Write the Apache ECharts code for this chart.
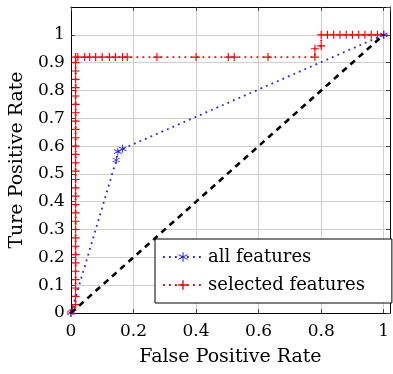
<!DOCTYPE html>
<html>
<head>
<meta charset="utf-8">
<script src="https://cdn.jsdelivr.net/npm/echarts@6/dist/echarts.min.js"></script>
<style>
  html, body { margin: 0; padding: 0; background: #fff; }
  #chart { width: 393px; height: 374px; }
</style>
</head>
<body>
<div id="chart"></div>
<script>
// ROC points: [false positive rate, true positive rate]
const allFeatures = [
  [0, 0], [0.145, 0.55], [0.15, 0.58], [0.165, 0.59], [1, 1]
];
const selectedFeatures = [
  [0, 0], [0.005, 0.01],
  [0.015, 0.03], [0.015, 0.06], [0.015, 0.09], [0.015, 0.12], [0.015, 0.15],
  [0.015, 0.18], [0.015, 0.21], [0.015, 0.24], [0.015, 0.27], [0.015, 0.30],
  [0.015, 0.33], [0.015, 0.36], [0.015, 0.39], [0.015, 0.42], [0.015, 0.45],
  [0.015, 0.48], [0.015, 0.51], [0.015, 0.54], [0.015, 0.57], [0.015, 0.60],
  [0.015, 0.63], [0.015, 0.66], [0.015, 0.69], [0.015, 0.72], [0.015, 0.75],
  [0.015, 0.78], [0.015, 0.81], [0.015, 0.84], [0.015, 0.87], [0.015, 0.90],
  [0.015, 0.92], [0.022, 0.92], [0.044, 0.92], [0.06, 0.92], [0.079, 0.92],
  [0.1, 0.92], [0.123, 0.92], [0.142, 0.92], [0.165, 0.92], [0.18, 0.92],
  [0.275, 0.92], [0.40, 0.92], [0.503, 0.92], [0.522, 0.92], [0.63, 0.92],
  [0.78, 0.92], [0.78, 0.95], [0.80, 0.96], [0.80, 1.0],
  [0.82, 1], [0.84, 1], [0.86, 1], [0.88, 1], [0.90, 1], [0.92, 1],
  [0.94, 1], [0.96, 1], [0.98, 1], [1, 1]
];
const chance = [[0, 0], [1, 1]];
const seriesNames = ["all features", "selected features"];

const font = "DejaVu Serif";
const asterisk = "path://M4.5,0H5.5V10H4.5Z M0.92,2.07L9.58,7.07L9.08,7.93L0.42,2.93Z M0.42,7.07L9.08,2.07L9.58,2.93L0.92,7.93Z";
const plus = "path://M3,0h1v3h3v1h-3v3h-1v-3h-3v-1h3z";

const frameAxis = {
  axisLine: { show: true, onZero: false, lineStyle: { color: "#000", width: 1 } },
  axisTick: { show: true, inside: true, length: 4, lineStyle: { color: "#444" } },
};

const chart = echarts.init(document.getElementById("chart"));
chart.setOption({
  animation: false,
  grid: { left: 68, right: 3, top: 7, bottom: 61 },
  legend: {
    data: seriesNames,
    orient: "vertical",
    left: 155,
    top: 239,
    itemWidth: 40,
    itemHeight: 12,
    itemGap: 10,
    padding: [9, 27, 9, 7],
    backgroundColor: "#fff",
    borderColor: "#000",
    borderWidth: 1,
    textStyle: { fontFamily: font, fontSize: 18, color: "#000" },
  },
  xAxis: [
    {
      type: "value", min: 0, max: 1.02, interval: 0.2,
      name: "False Positive Rate", nameLocation: "middle", nameGap: 35,
      nameTextStyle: { fontFamily: font, fontSize: 19, color: "#000" },
      ...frameAxis,
      axisLabel: { showMaxLabel: false, margin: 10, fontFamily: font, fontSize: 17, color: "#000" },
      splitLine: { show: true, lineStyle: { color: "#cfcfcf", width: 1 } },
    },
    {
      type: "value", min: 0, max: 1.02, interval: 0.2, position: "top",
      ...frameAxis, axisLabel: { show: false }, splitLine: { show: false },
    },
  ],
  yAxis: [
    {
      type: "value", min: 0, max: 1.1, interval: 0.1,
      name: "Ture Positive Rate", nameLocation: "middle", nameGap: 39,
      nameTextStyle: { fontFamily: font, fontSize: 19, color: "#000" },
      ...frameAxis,
      axisLabel: { showMaxLabel: false, margin: 6, fontFamily: font, fontSize: 17, color: "#000" },
      splitLine: { show: true, lineStyle: { color: "#cfcfcf", width: 1 } },
    },
    {
      type: "value", min: 0, max: 1.1, interval: 0.1, position: "right",
      ...frameAxis, axisLabel: { show: false }, splitLine: { show: false },
    },
  ],
  series: [
    {
      name: seriesNames[0],
      type: "line",
      data: allFeatures,
      symbol: asterisk,
      symbolSize: 8,
      color: "#2323ff",
      lineStyle: { color: "#2323ff", width: 1.8, type: [1.8, 4.2] },
      itemStyle: { color: "#2323ff" },
      z: 3,
    },
    {
      name: seriesNames[1],
      type: "line",
      data: selectedFeatures,
      symbol: plus,
      symbolSize: 8,
      color: "#ff0000",
      lineStyle: { color: "#ff0000", width: 1.8, type: [1.8, 4.2] },
      itemStyle: { color: "#ff0000" },
      z: 2,
    },
    {
      type: "line",
      data: chance,
      symbol: "none",
      lineStyle: { color: "#000", width: 2.6, type: [6, 5] },
      z: 4,
    },
  ],
});
</script>
</body>
</html>
